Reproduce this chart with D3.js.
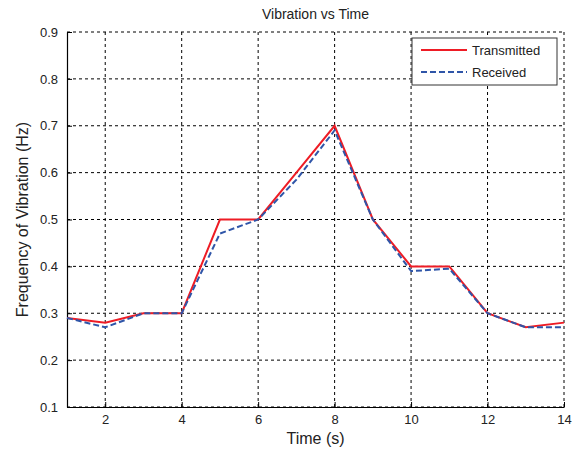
<!DOCTYPE html>
<html>
<head>
<meta charset="utf-8">
<script src="https://cdn.jsdelivr.net/npm/d3@7"></script>
<style>
  body { margin: 0; background: #fff; }
  text { font-family: "Liberation Sans", Arial, sans-serif; fill: #222; }
</style>
</head>
<body>
<div id="chart"></div>
<script>
// data
const time = [1, 2, 3, 4, 5, 6, 7, 8, 9, 10, 11, 12, 13, 14];
const transmitted = [0.29, 0.28, 0.30, 0.30, 0.50, 0.50, 0.60, 0.70, 0.50, 0.40, 0.40, 0.30, 0.27, 0.28];
const received = [0.29, 0.27, 0.30, 0.30, 0.47, 0.50, 0.585, 0.69, 0.50, 0.39, 0.395, 0.30, 0.27, 0.27];
const xTicks = [2, 4, 6, 8, 10, 12, 14];
const yTicks = [0.1, 0.2, 0.3, 0.4, 0.5, 0.6, 0.7, 0.8, 0.9];

const W = 573, H = 452;
const m = { left: 67, right: 9, top: 32, bottom: 45 };
const iw = W - m.left - m.right, ih = H - m.top - m.bottom;

const svg = d3.select("#chart").append("svg").attr("width", W).attr("height", H);
const g = svg.append("g").attr("transform", `translate(${m.left},${m.top})`);

const x = d3.scaleLinear().domain([1, 14]).range([0, iw]);
const y = d3.scaleLinear().domain([0.1, 0.9]).range([ih, 0]);

// grid (top and right edges are only grid lines, box is off)
g.append("g").selectAll("line").data(xTicks).join("line")
  .attr("x1", d => x(d)).attr("x2", d => x(d)).attr("y1", 0).attr("y2", ih)
  .attr("stroke", "#000").attr("stroke-width", 1).attr("stroke-dasharray", "3,3");
g.append("g").selectAll("line").data(yTicks).join("line")
  .attr("x1", 0).attr("x2", iw).attr("y1", d => y(d)).attr("y2", d => y(d))
  .attr("stroke", "#000").attr("stroke-width", 1).attr("stroke-dasharray", "3,3");

// axes, ticks inward
const xa = g.append("g").attr("transform", `translate(0,${ih})`)
  .call(d3.axisBottom(x).tickValues(xTicks).tickSizeInner(-5).tickSizeOuter(0).tickPadding(8));
const ya = g.append("g")
  .call(d3.axisLeft(y).tickValues(yTicks).tickSizeInner(-5).tickSizeOuter(0).tickPadding(9).tickFormat(d3.format(".1f")));
[xa, ya].forEach(a => {
  a.select(".domain").attr("stroke", "#000").attr("stroke-width", 1.2);
  a.selectAll("line").attr("stroke", "#000");
  a.selectAll("text").style("font-size", "13px").attr("fill", "#222");
});

// lines
const line = d3.line().x((d, i) => x(time[i])).y(d => y(d));
g.append("path").datum(transmitted).attr("d", line)
  .attr("fill", "none").attr("stroke", "#ee1c25").attr("stroke-width", 2);
g.append("path").datum(received).attr("d", line)
  .attr("fill", "none").attr("stroke", "#2f55a8").attr("stroke-width", 2)
  .attr("stroke-dasharray", "6,3");

// legend
const lg = svg.append("g").attr("transform", "translate(412,38)");
lg.append("rect").attr("width", 145).attr("height", 47)
  .attr("fill", "#fff").attr("stroke", "#333").attr("stroke-width", 1);
lg.append("line").attr("x1", 9).attr("x2", 55).attr("y1", 12).attr("y2", 12)
  .attr("stroke", "#ee1c25").attr("stroke-width", 2);
lg.append("line").attr("x1", 9).attr("x2", 55).attr("y1", 34).attr("y2", 34)
  .attr("stroke", "#2f55a8").attr("stroke-width", 2).attr("stroke-dasharray", "6,3");
lg.append("text").attr("x", 60).attr("y", 17).style("font-size", "13px").text("Transmitted");
lg.append("text").attr("x", 60).attr("y", 39).style("font-size", "13px").text("Received");

// titles
svg.append("text").attr("x", m.left + iw / 2).attr("y", 19).attr("text-anchor", "middle")
  .style("font-size", "14px").text("Vibration vs Time");
svg.append("text").attr("x", m.left + iw / 2).attr("y", 444).attr("text-anchor", "middle")
  .style("font-size", "16px").text("Time (s)");
svg.append("text").attr("transform", `translate(28,${m.top + ih / 2}) rotate(-90)`)
  .attr("text-anchor", "middle").style("font-size", "16px").text("Frequency of Vibration (Hz)");
</script>
</body>
</html>
